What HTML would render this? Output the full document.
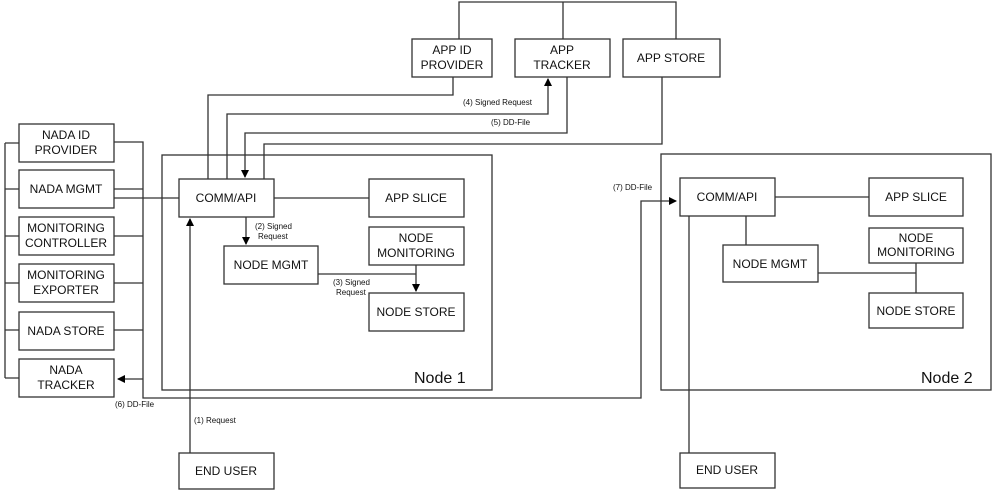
<!DOCTYPE html>
<html><head><meta charset="utf-8"><style>
body{margin:0;background:#fff}
svg{display:block}
text{font-family:"Liberation Sans",Arial,sans-serif;fill:#111}
.b{fill:#fff;stroke:#333;stroke-width:1.3}
.l{fill:none;stroke:#333;stroke-width:1.3}
.t{font-size:12px;text-anchor:middle}
.s{font-size:8px}
</style></head><body>
<svg width="993" height="490" viewBox="0 0 993 490" xmlns="http://www.w3.org/2000/svg">
<defs><marker id="a" markerWidth="8" markerHeight="8" refX="7" refY="4" orient="auto" markerUnits="userSpaceOnUse"><path d="M0,0 L8,4 L0,8 z" fill="#000"/></marker></defs>
<!-- containers -->
<rect class="b" x="162" y="155" width="330" height="235"/>
<rect class="b" x="661" y="154" width="330" height="236"/>
<!-- top connectors -->
<path class="l" d="M459,39 V2 H676 V39 M563,2 V39"/>
<path class="l" d="M453,77 V95 H208 V179"/>
<path class="l" d="M227,179 V114 H548 V79" marker-end="url(#a)"/>
<path class="l" d="M567,77 V133 H245 V177" marker-end="url(#a)"/>
<path class="l" d="M662,77 V144 H264 V179"/>
<!-- node1 internals -->
<path class="l" d="M114,198 H179 M274,198 H369"/>
<path class="l" d="M246,217 V244" marker-end="url(#a)"/>
<path class="l" d="M318,274 H416 M416,265 V291" marker-end="url(#a)"/>
<path class="l" d="M190,453 V219" marker-end="url(#a)"/>
<!-- nada bracket -->
<path class="l" d="M5,143 V378 M5,143 H19 M5,189 H19 M5,236 H19 M5,283 H19 M5,330 H19 M5,378 H19"/>
<path class="l" d="M114,142 H143 V398 H641 V201 H676" marker-end="url(#a)"/>
<path class="l" d="M114,189 H143 M114,236 H143 M114,283 H143 M114,330 H143"/>
<path class="l" d="M143,379 H118" marker-end="url(#a)"/>
<!-- node2 internals -->
<path class="l" d="M775,197 H869 M746,216 V245 M818,273 H916 M916,263 V293 M689,216 V453"/>
<!-- boxes -->
<rect class="b" x="412" y="39" width="80" height="38"/>
<rect class="b" x="515" y="39" width="95" height="38"/>
<rect class="b" x="623" y="39" width="97" height="38"/>
<rect class="b" x="19" y="124" width="95" height="38"/>
<rect class="b" x="19" y="170" width="95" height="38"/>
<rect class="b" x="19" y="217" width="95" height="38"/>
<rect class="b" x="19" y="264" width="95" height="38"/>
<rect class="b" x="19" y="312" width="95" height="38"/>
<rect class="b" x="19" y="359" width="95" height="38"/>
<rect class="b" x="179" y="179" width="95" height="38"/>
<rect class="b" x="369" y="179" width="95" height="38"/>
<rect class="b" x="369" y="227" width="95" height="38"/>
<rect class="b" x="224" y="246" width="94" height="38"/>
<rect class="b" x="369" y="293" width="95" height="38"/>
<rect class="b" x="179" y="453" width="95" height="36"/>
<rect class="b" x="680" y="178" width="95" height="38"/>
<rect class="b" x="869" y="178" width="94" height="38"/>
<rect class="b" x="869" y="228" width="94" height="35"/>
<rect class="b" x="723" y="245" width="95" height="37"/>
<rect class="b" x="869" y="293" width="94" height="35"/>
<rect class="b" x="680" y="453" width="95" height="35"/>
<!-- labels -->
<text class="t" x="452" y="54">APP ID</text><text class="t" x="452" y="69">PROVIDER</text>
<text class="t" x="562" y="54">APP</text><text class="t" x="562" y="69">TRACKER</text>
<text class="t" x="671" y="62">APP STORE</text>
<text class="t" x="66" y="139">NADA ID</text><text class="t" x="66" y="154">PROVIDER</text>
<text class="t" x="66" y="193">NADA MGMT</text>
<text class="t" x="66" y="232">MONITORING</text><text class="t" x="66" y="247">CONTROLLER</text>
<text class="t" x="66" y="279">MONITORING</text><text class="t" x="66" y="294">EXPORTER</text>
<text class="t" x="66" y="335">NADA STORE</text>
<text class="t" x="66" y="374">NADA</text><text class="t" x="66" y="389">TRACKER</text>
<text class="t" x="226" y="202">COMM/API</text>
<text class="t" x="416" y="202">APP SLICE</text>
<text class="t" x="416" y="242">NODE</text><text class="t" x="416" y="257">MONITORING</text>
<text class="t" x="271" y="269">NODE MGMT</text>
<text class="t" x="416" y="316">NODE STORE</text>
<text class="t" x="226" y="475">END USER</text>
<text class="t" x="727" y="201">COMM/API</text>
<text class="t" x="916" y="201">APP SLICE</text>
<text class="t" x="916" y="242">NODE</text><text class="t" x="916" y="256">MONITORING</text>
<text class="t" x="770" y="268">NODE MGMT</text>
<text class="t" x="916" y="315">NODE STORE</text>
<text class="t" x="727" y="474">END USER</text>
<text x="414" y="383" style="font-size:16px">Node 1</text>
<text x="921" y="383" style="font-size:16px">Node 2</text>
<text class="s" x="463" y="105">(4) Signed Request</text>
<text class="s" x="491" y="125">(5) DD-File</text>
<text class="s" x="255" y="229">(2) Signed</text><text class="s" x="258" y="239">Request</text>
<text class="s" x="333" y="285">(3) Signed</text><text class="s" x="336" y="295">Request</text>
<text class="s" x="194" y="423">(1) Request</text>
<text class="s" x="115" y="407">(6) DD-File</text>
<text class="s" x="613" y="190">(7) DD-File</text>
</svg>
</body></html>
